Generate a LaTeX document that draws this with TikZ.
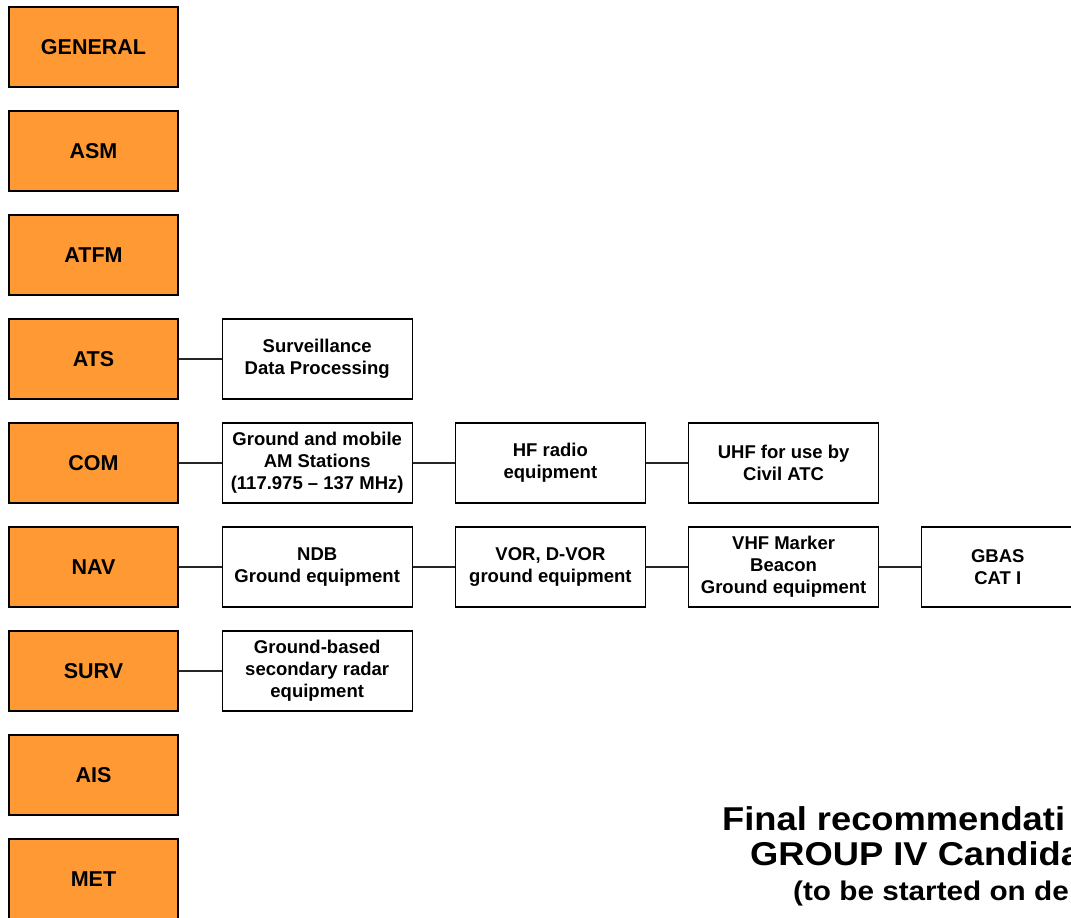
\documentclass[tikz,border=0pt]{standalone}
\usepackage{fontspec}
\setmainfont{Liberation Sans}
\newfontfamily\titlefont[FakeStretch=1.1]{Liberation Sans}
\usetikzlibrary{positioning}
\definecolor{areaorange}{HTML}{FF9933}

\begin{document}
\begin{tikzpicture}[
    x=1pt, y=-1pt,
    area/.style={rectangle, draw, line width=1.2pt, fill=areaorange, minimum width=169pt, minimum height=80pt, font=\fontsize{21.5}{25}\selectfont\bfseries},
    box/.style={rectangle, draw, line width=1.2pt, fill=white, minimum width=190pt, minimum height=80pt, align=center, font=\fontsize{18.5}{22}\selectfont\bfseries},
    link/.style={line width=1.2pt, draw=black!85},
    headline/.style={anchor=base west, inner sep=0pt, font=\fontsize{33}{36}\titlefont\bfseries}
]
    \useasboundingbox (0,0) rectangle (1071,918);
    \clip (0,0) rectangle (1071,918);

    % areas down the left side
    \foreach \name/\txt [count=\i from 0] in {general/GENERAL, asm/ASM, atfm/ATFM, ats/ATS, com/COM, nav/NAV, surv/SURV, ais/AIS, met/MET}
        \node[area] (\name) at (93.5, 47+104*\i) {\txt};

    \node[box, right=43pt of ats] (sdp) {Surveillance\\Data Processing};

    \node[box, right=43pt of com] (gmam) {Ground and mobile\\AM Stations\\(117.975 – 137 MHz)};
    \node[box, right=42pt of gmam] (hf) {HF radio\\equipment};
    \node[box, right=42pt of hf] (uhf) {UHF for use by\\Civil ATC};

    \node[box, right=43pt of nav] (ndb) {NDB\\Ground equipment};
    \node[box, right=42pt of ndb] (vor) {VOR, D-VOR\\ground equipment};
    \node[box, right=42pt of vor] (vhf) {VHF Marker\\Beacon\\Ground equipment};
    \node[box, right=42pt of vhf, minimum width=152pt] (gbas) {GBAS\\CAT I};

    \node[box, right=43pt of surv] (ssr) {Ground-based\\secondary radar\\equipment};

    \draw[link] (ats) -- (sdp);
    \draw[link] (com) -- (gmam);
    \draw[link] (gmam) -- (hf);
    \draw[link] (hf) -- (uhf);
    \draw[link] (nav) -- (ndb);
    \draw[link] (ndb) -- (vor);
    \draw[link] (vor) -- (vhf);
    \draw[link] (vhf) -- (gbas);
    \draw[link] (surv) -- (ssr);

    % title, cut off at the right edge
    \node[headline] (t1) at (722,830) {Final recommendati};
    \node[headline] (t2) at (750,865) {GROUP IV Candida};
    \node[headline, font=\fontsize{27}{30}\titlefont\bfseries] (t3) at (793,900) {(to be started on de};
\end{tikzpicture}
\end{document}
